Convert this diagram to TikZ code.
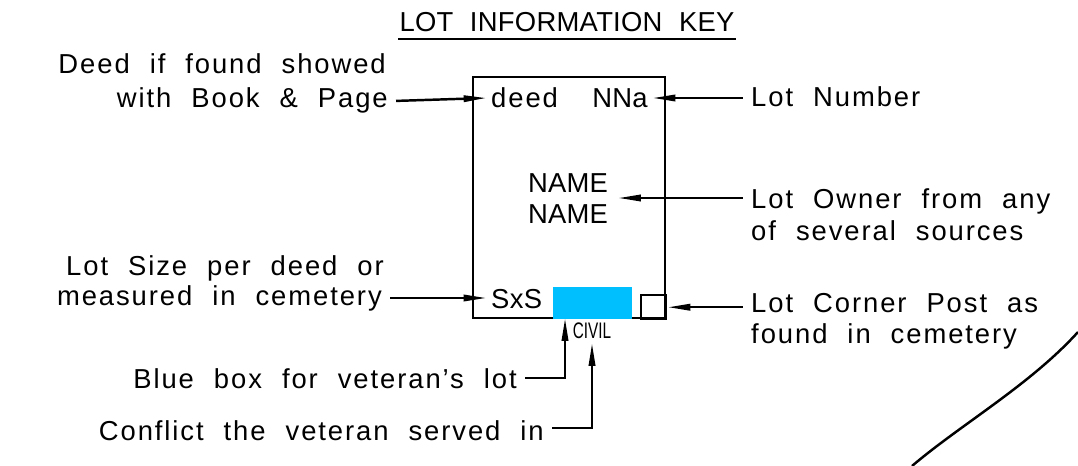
\documentclass[tikz,border=0pt]{standalone}
\usepackage{fontspec}
\setmainfont{Liberation Sans}[LetterSpace=7,WordSpace=2.1]
\usepackage{tikz}
\usetikzlibrary{arrows.meta}

\definecolor{vetblue}{RGB}{0,191,255}

\begin{document}
\begin{tikzpicture}[x=0.02cm,y=-0.02cm,line width=1.4pt,
    txt/.style={font=\fontsize{15.6}{18}\selectfont,inner sep=0pt},
    captxt/.style={txt,font=\fontsize{15.6}{18}\selectfont\addfontfeatures{LetterSpace=1}},
    ptr/.style={-{Triangle[length=13pt,width=3.6pt]}}]
  \useasboundingbox (0,0) rectangle (1078,466);

  \draw (567,32) node[captxt,anchor=base] (title) {LOT INFORMATION KEY};
  \draw ([yshift=-4pt]title.base west) -- ([yshift=-4pt]title.base east);

  % the key box
  \draw (473,77) rectangle (665,318);
  \draw (552,286) node[fill=vetblue,minimum width=79*0.02cm,minimum height=32*0.02cm,inner sep=0pt,anchor=north west] (vet) {};
  \draw (640,294) node[draw,minimum width=25*0.02cm,minimum height=24*0.02cm,inner sep=0pt,anchor=north west] (post) {};
  \draw (490,108) node[txt,anchor=base west] (deed) {deed};
  \draw (649,108) node[captxt,anchor=base east] (nna) {NNa};
  \draw (568,192) node[captxt,anchor=base] (name1) {NAME};
  \draw (568,223) node[captxt,anchor=base] (name2) {NAME};
  \draw (490,308) node[captxt,anchor=base west] (sxs) {SxS};
  \draw (592,338) node[inner sep=0pt,anchor=base,font=\fontsize{12.8}{13}\selectfont\addfontfeatures{LetterSpace=0}] (civil) {\scalebox{0.68}[1]{CIVIL}};
  \coordinate (vettip) at (565,318);

  % labels on the left
  \draw (387,73) node[txt,anchor=base east] (bookA) {Deed if found showed};
  \draw (389,108) node[txt,anchor=base east] (bookB) {with Book \& Page};
  \draw (385,275) node[txt,anchor=base east] (sizeA) {Lot Size per deed or};
  \draw (383,305) node[txt,anchor=base east] (sizeB) {measured in cemetery};
  \draw (518,388) node[txt,anchor=base east] (bluelbl) {Blue box for veteran’s lot};
  \draw (545,440) node[txt,anchor=base east] (conflict) {Conflict the veteran served in};

  % labels on the right
  \draw (750,107) node[txt,anchor=base west] (lotnum) {Lot Number};
  \draw (750,208) node[txt,anchor=base west] (ownerA) {Lot Owner from any};
  \draw (750,240) node[txt,anchor=base west] (ownerB) {of several sources};
  \draw (750,312) node[txt,anchor=base west] (cornerA) {Lot Corner Post as};
  \draw (750,343) node[txt,anchor=base west] (cornerB) {found in cemetery};

  % pointers
  \path[ptr] ([xshift=4pt]bookB.east) edge ([xshift=-2pt]deed.west |- 0,98);
  \path[ptr] ([xshift=4pt]sizeB.east |- 0,298) edge ([xshift=-2pt]sxs.west |- 0,298);
  \path[ptr] ([xshift=-4pt]lotnum.west |- 0,98) edge ([xshift=2pt]nna.east |- 0,98);
  \path[ptr] ([xshift=-4pt]ownerA.west |- 0,198) edge ([xshift=5pt]name1.east |- 0,198);
  \path[ptr] ([xshift=-4pt]cornerA.west |- post.east) edge (post.east);
  \draw[ptr] ([xshift=4pt]bluelbl.east |- 0,378) -| (vettip);
  \draw[ptr] ([xshift=4pt]conflict.east |- 0,428) -| ([yshift=-2pt]civil.south);

  % road edge
  \draw (912,466) .. controls (960,425) and (1030,385) .. (1078,332);
\end{tikzpicture}
\end{document}
